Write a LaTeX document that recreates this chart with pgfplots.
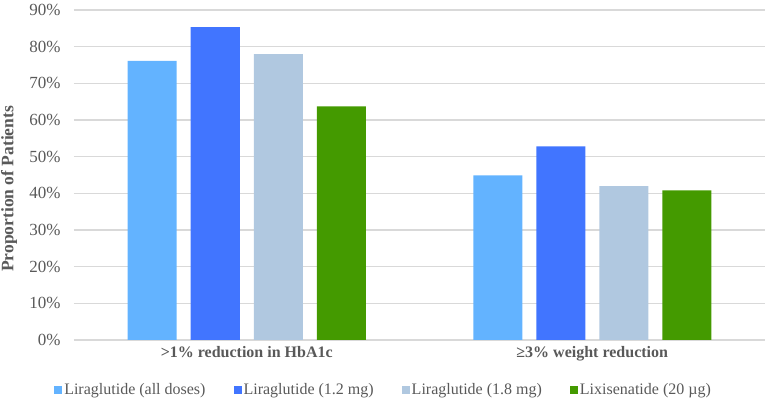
\documentclass[border=0pt]{standalone}
\usepackage{fontspec}
\setmainfont{Liberation Serif}
\usepackage{pgfplots}
\pgfplotsset{compat=1.18}
\definecolor{cA}{HTML}{63B3FF}
\definecolor{cB}{HTML}{4175FF}
\definecolor{cC}{HTML}{B0C8E0}
\definecolor{cD}{HTML}{449A00}
\definecolor{gridc}{HTML}{D9D9D9}
\definecolor{txt}{HTML}{595959}
\begin{document}
\begin{tikzpicture}
\path[use as bounding box] (-74pt,-64pt) rectangle (692pt,340pt);
\begin{axis}[
  at={(0pt,0pt)}, anchor=south west,
  scale only axis, width=691pt, height=330pt,
  ybar=14pt, bar width=49pt,
  xmin=-0.5, xmax=1.5, ymin=0, ymax=90,
  xtick={0,1}, xticklabels={{>1\% reduction in HbA1c},{≥3\% weight reduction}},
  ytick={0,10,...,90},
  yticklabel={\pgfmathparse{int(\tick)}\pgfmathresult\%},
  /pgf/number format/assume math mode=true,
  axis x line*=bottom, axis y line*=left,
  x axis line style={gridc, line width=1.2pt, -},
  y axis line style={draw=none},
  major tick length=0pt,
  ymajorgrids, grid style={gridc, line width=1.2pt},
  xticklabel style={font=\fontsize{16}{18}\selectfont\bfseries, text=txt, yshift=-3pt},
  yticklabel style={font=\fontsize{17}{19}\selectfont, text=txt, xshift=-10pt},
  ylabel={Proportion of Patients},
  every axis y label/.style={at={(axis description cs:-0.094,0.458)}, rotate=90, anchor=center,
    font=\fontsize{17.5}{19}\selectfont\bfseries, text=txt},
  legend columns=4,
  legend style={draw=none, fill=none, at={(0.448,-0.152)}, anchor=center,
    font=\fontsize{16}{18}\selectfont, text=txt,
    /tikz/every even column/.append style={column sep=26pt}},
  legend image code/.code={\fill[#1] (0pt,-4pt) rectangle (8pt,4pt);},
  legend cell align=left,
]
\addplot[fill=cA, draw=none] coordinates {(0,76.1) (1,44.9)};
\addplot[fill=cB, draw=none] coordinates {(0,85.3) (1,52.8)};
\addplot[fill=cC, draw=none] coordinates {(0,78.0) (1,42.0)};
\addplot[fill=cD, draw=none] coordinates {(0,63.7) (1,40.8)};
\legend{Liraglutide (all doses), Liraglutide (1.2 mg), Liraglutide (1.8 mg), Lixisenatide (20 µg)}
\end{axis}
\end{tikzpicture}
\end{document}
